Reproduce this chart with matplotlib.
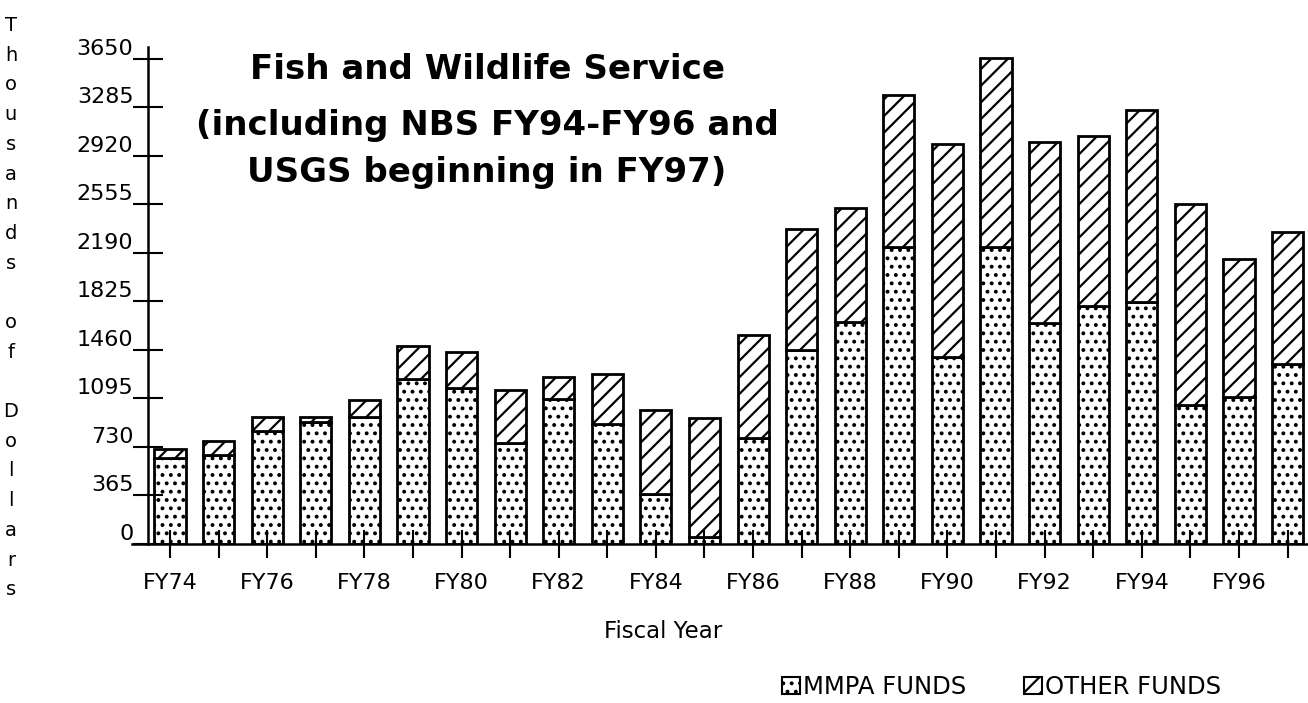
import matplotlib
matplotlib.use("Agg")
import matplotlib.pyplot as plt
from matplotlib.patches import Patch

# ---- data (thousands of dollars) ----
years = ["FY74", "FY75", "FY76", "FY77", "FY78", "FY79", "FY80", "FY81",
         "FY82", "FY83", "FY84", "FY85", "FY86", "FY87", "FY88", "FY89",
         "FY90", "FY91", "FY92", "FY93", "FY94", "FY95", "FY96", "FY97"]
mmpa_funds = [647, 670, 850, 918, 956, 1242, 1174, 760, 1091, 903, 376, 53,
              798, 1460, 1671, 2235, 1407, 2235, 1663, 1791, 1821, 1046, 1106, 1355]
other_funds = [68, 105, 106, 38, 128, 248, 271, 399, 166, 376, 632, 895,
               775, 911, 858, 1144, 1603, 1423, 1362, 1280, 1445, 1513, 1039, 993]
y_ticks = [0, 365, 730, 1095, 1460, 1825, 2190, 2555, 2920, 3285, 3650]
title_lines = ["Fish and Wildlife Service",
               "(including NBS FY94-FY96 and",
               "USGS beginning in FY97)"]
y_label_words = ["Thousands", "of", "Dollars"]
x_label = "Fiscal Year"
legend_labels = ["MMPA FUNDS", "OTHER FUNDS"]

W, H = 1308, 703
plt.rcParams['font.family'] = ['DejaVu Sans']
plt.rcParams['hatch.linewidth'] = 1.6
plt.rcParams['hatch.color'] = 'black'

fig = plt.figure(figsize=(W / 100, H / 100), dpi=100)
ax = fig.add_axes([132 / W, (H - 544) / H, 1176 / W, 497 / H])

x = list(range(len(years)))
bw = 0.64
ax.bar(x, mmpa_funds, width=bw, color='white', edgecolor='black',
       linewidth=2.0, hatch='..', label=legend_labels[0])
ax.bar(x, other_funds, width=bw, bottom=mmpa_funds, color='white',
       edgecolor='black', linewidth=2.0, hatch='//', label=legend_labels[1])

ax.set_xlim(-0.782, 23.42)
ax.set_ylim(0, 3740)

for s in ['top', 'right']:
    ax.spines[s].set_visible(False)
ax.spines['left'].set_position(('axes', 16 / 1176))
ax.spines['left'].set_linewidth(1.8)
ax.spines['bottom'].set_linewidth(1.8)

ax.set_yticks(y_ticks)
ax.set_yticklabels([str(v) for v in y_ticks], fontsize=16)
for lab in ax.get_yticklabels():
    lab.set_va('bottom')
ax.tick_params(axis='y', direction='inout', length=21, width=1.5, pad=0)

ax.set_xticks(x)
ax.set_xticklabels([y if i % 2 == 0 else "" for i, y in enumerate(years)], fontsize=16)
ax.tick_params(axis='x', direction='inout', length=20, width=1.5, pad=11)

# title lines
baselines = [79, 135, 182]
for txt, b in zip(title_lines, baselines):
    fig.text(487 / W, 1 - b / H, txt, ha='center', va='baseline',
             fontsize=24.5, fontweight='bold')

# x label
fig.text(663 / W, 1 - 638 / H, x_label, ha='center', va='baseline', fontsize=16.5)

# vertical stacked y label (one letter per line, blank line between words)
chars = []
for k, w in enumerate(y_label_words):
    if k:
        chars.append("")
    chars.extend(list(w))
for i, ch in enumerate(chars):
    if ch:
        fig.text(11 / W, 1 - (31 + i * 29.7) / H, ch, ha='center',
                 va='baseline', fontsize=14)

# legend
handles = [Patch(facecolor='white', edgecolor='black', hatch='..', linewidth=1.5),
           Patch(facecolor='white', edgecolor='black', hatch='//', linewidth=1.5)]
fig.legend(handles, legend_labels, loc='center left',
           bbox_to_anchor=(782 / W, 1 - 687 / H), ncol=2, frameon=False,
           fontsize=17.5, handlelength=0.75, handleheight=0.75,
           handletextpad=0.12, columnspacing=2.35, borderpad=0, borderaxespad=0)

fig.savefig("out.png", dpi=100)
